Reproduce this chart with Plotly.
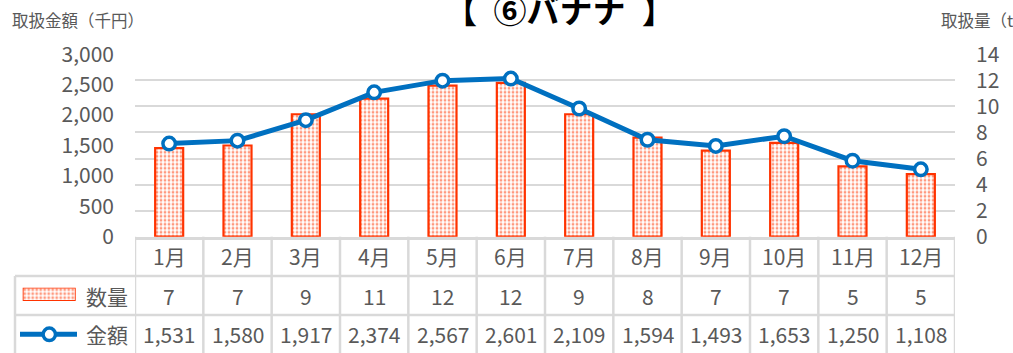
import plotly.graph_objects as go

# monthly data
months = ["1月", "2月", "3月", "4月", "5月", "6月", "7月", "8月", "9月", "10月", "11月", "12月"]
quantity_t = [6.8, 7.0, 9.4, 10.6, 11.6, 11.8, 9.4, 7.6, 6.6, 7.2, 5.4, 4.8]
amount_kyen = [1531, 1580, 1917, 2374, 2567, 2601, 2109, 1594, 1493, 1653, 1250, 1108]
left_ticks = [0, 500, 1000, 1500, 2000, 2500, 3000]
right_ticks = [0, 2, 4, 6, 8, 10, 12, 14]

W, H = 1013, 353
FONT = "Noto Sans CJK JP"
GREY = "#595959"
GRID = "#D9D9D9"
RED = "#FF3300"
BLUE = "#0070C0"
TXT = 21

# plot area in pixels
PX_L, PX_R = 135, 955
PY_T, PY_B = 54.3, 236.7


def px(x):
    return x / W


def py(y):
    return (H - y) / H


fig = go.Figure()

# quantity bars (right scale, drawn underneath)
fig.add_trace(go.Bar(
    x=months, y=quantity_t, name="数量", yaxis="y", xaxis="x",
    marker=dict(color="white", line=dict(color=RED, width=2.2),
                pattern=dict(shape=".", fgcolor=RED, bgcolor="white", size=4, solidity=0.4)),
    showlegend=False,
))

# amount line (left scale, drawn on top)
fig.add_trace(go.Scatter(
    x=months, y=amount_kyen, name="金額", yaxis="y2", xaxis="x",
    mode="lines+markers",
    line=dict(color=BLUE, width=5),
    marker=dict(size=12.5, color="white", line=dict(color=BLUE, width=3.5)),
    showlegend=False,
))

# legend key for quantity inside the data table
fig.add_trace(go.Bar(
    x=[1], y=[0], orientation="h", width=1, xaxis="x3", yaxis="y3",
    marker=dict(color="white", line=dict(color=RED, width=1.8),
                pattern=dict(shape=".", fgcolor=RED, bgcolor="white", size=4, solidity=0.4)),
    showlegend=False, hoverinfo="skip",
))

fig.update_layout(
    width=W, height=H, autosize=False,
    margin=dict(l=0, r=0, t=0, b=0, autoexpand=False),
    paper_bgcolor="white", plot_bgcolor="white",
    bargap=0.59,
    font=dict(family=FONT, color=GREY, size=TXT),
    xaxis=dict(domain=[px(PX_L), px(PX_R)], type="category", range=[-0.5, 11.5],
               showticklabels=False, showgrid=False, zeroline=False,
               showline=True, linecolor=GRID, linewidth=2.5, ticks=""),
    yaxis=dict(domain=[py(PY_B), py(PY_T)], side="right", range=[0, 14],
               tickvals=right_ticks, showgrid=True, gridcolor=GRID, gridwidth=2,
               zeroline=False, showline=False, ticks="", ticklabelstandoff=20,
               tickfont=dict(size=TXT, color=GREY, family=FONT)),
    yaxis2=dict(overlaying="y", side="left", range=[0, 3000],
                tickvals=left_ticks, tickformat=",", showgrid=False, zeroline=False,
                showline=False, ticks="", ticklabelstandoff=20,
                tickfont=dict(size=TXT, color=GREY, family=FONT)),
    xaxis3=dict(domain=[px(22.7), px(75.7)], range=[0, 1], visible=False, fixedrange=True),
    yaxis3=dict(domain=[py(301), py(287.7)], range=[-0.5, 0.5], visible=False, fixedrange=True),
)

shapes = []
annotations = []

# data table grid
ROW_Y = [236.7, 276, 315, 356]
for yline in ROW_Y[1:3]:
    shapes.append(dict(type="line", xref="paper", yref="paper",
                       x0=px(15), x1=px(PX_R), y0=py(yline), y1=py(yline),
                       line=dict(color=GRID, width=2.5)))
for i in range(len(months) + 1):
    shapes.append(dict(type="line", xref="x", yref="paper",
                       x0=i - 0.5, x1=i - 0.5, y0=py(ROW_Y[0]), y1=py(ROW_Y[3]),
                       line=dict(color=GRID, width=2.5)))
shapes.append(dict(type="line", xref="paper", yref="paper",
                   x0=px(15), x1=px(15), y0=py(ROW_Y[1]), y1=py(ROW_Y[3]),
                   line=dict(color=GRID, width=2.5)))

# legend key for amount
key_y = py(334.3)
shapes.append(dict(type="line", xref="paper", yref="paper",
                   x0=px(20), x1=px(77), y0=key_y, y1=key_y,
                   line=dict(color=BLUE, width=5)))
shapes.append(dict(type="circle", xref="paper", yref="paper",
                   x0=px(49.3 - 6.2), x1=px(49.3 + 6.2), y0=key_y - 6.2 / H, y1=key_y + 6.2 / H,
                   fillcolor="white", line=dict(color=BLUE, width=3.5)))

row_mid = [(ROW_Y[k] + ROW_Y[k + 1]) / 2 for k in range(3)]
row_mid[2] = 334
for i, m in enumerate(months):
    annotations.append(dict(x=m, xref="x", y=py(row_mid[0]), yref="paper",
                            text=m, showarrow=False, xanchor="center", yanchor="middle"))
    annotations.append(dict(x=m, xref="x", y=py(row_mid[1]), yref="paper",
                            text=f"{quantity_t[i]:.0f}", showarrow=False,
                            xanchor="center", yanchor="middle"))
    annotations.append(dict(x=m, xref="x", y=py(row_mid[2]), yref="paper",
                            text=f"{amount_kyen[i]:,}", showarrow=False,
                            xanchor="center", yanchor="middle"))

annotations.append(dict(x=px(130), y=py(row_mid[1]), xref="paper", yref="paper",
                        text="数量", showarrow=False, xanchor="right", yanchor="middle"))
annotations.append(dict(x=px(130), y=py(row_mid[2]), xref="paper", yref="paper",
                        text="金額", showarrow=False, xanchor="right", yanchor="middle"))

# axis titles
annotations.append(dict(x=px(10), y=py(20), xref="paper", yref="paper",
                        text="取扱金額（千円）", showarrow=False, xanchor="left", yanchor="middle",
                        font=dict(size=16.5, color=GREY, family=FONT)))
annotations.append(dict(x=px(939), y=py(20), xref="paper", yref="paper",
                        text="取扱量（t）", showarrow=False, xanchor="left", yanchor="middle",
                        font=dict(size=16.5, color=GREY, family=FONT)))

# chart title
annotations.append(dict(x=px(559), y=py(8.5), xref="paper", yref="paper",
                        text="<b>【\u2002⑥バナナ\u2002】</b>", showarrow=False,
                        xanchor="center", yanchor="middle",
                        font=dict(size=33, color="black", family=FONT)))

fig.update_layout(shapes=shapes, annotations=annotations)

fig.write_html("out.html")
